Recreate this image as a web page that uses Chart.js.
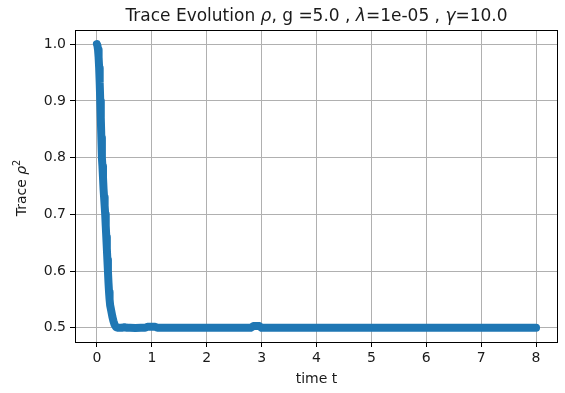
<!DOCTYPE html>
<html>
<head>
<meta charset="utf-8">
<script src="https://cdn.jsdelivr.net/npm/chart.js@4.4.0/dist/chart.umd.min.js"></script>
<style>
  html, body { margin: 0; padding: 0; background: #fff; }
  #wrap { width: 565px; height: 393px; }
</style>
</head>
<body>
<div id="wrap"><canvas id="traceChart"></canvas></div>
<script>
// time axis and Tr(rho^2) along the trajectory
const times = [0, 0.01, 0.02, 0.03, 0.04, 0.05, 0.06, 0.07, 0.08, 0.09,
  0.1, 0.11, 0.12, 0.13, 0.14, 0.15, 0.16, 0.17, 0.18, 0.19,
  0.2, 0.21, 0.22, 0.23, 0.24, 0.26, 0.28, 0.3, 0.32, 0.35,
  0.38, 0.45, 0.5, 0.55, 0.6, 0.7, 0.8, 0.88, 0.92, 1.0, 1.06, 1.1,
  1.5, 2.0, 2.5, 2.8, 2.85, 2.9, 2.96, 3.0, 3.5, 4.0, 4.5, 5.0,
  5.5, 6.0, 6.5, 7.0, 7.5, 8.0];
const trace = [1.0, 0.997, 0.99, 0.977, 0.958, 0.932, 0.9, 0.87, 0.835, 0.8,
  0.785, 0.765, 0.745, 0.73, 0.715, 0.7, 0.68, 0.66, 0.64, 0.62,
  0.6, 0.58, 0.563, 0.55, 0.54, 0.53, 0.52, 0.512, 0.506, 0.501,
  0.5, 0.5, 0.501, 0.5, 0.5, 0.4995, 0.5, 0.5, 0.502, 0.502, 0.502, 0.5,
  0.5, 0.5, 0.5, 0.5, 0.503, 0.503, 0.503, 0.5, 0.5, 0.5, 0.5, 0.5,
  0.5, 0.5, 0.5, 0.5, 0.5, 0.5];
const xTicks = [0, 1, 2, 3, 4, 5, 6, 7, 8];
const yTicks = [0.5, 0.6, 0.7, 0.8, 0.9, 1.0];

const FONT = '"DejaVu Sans", sans-serif';
const BLUE = '#1f77b4';
const INK = '#1a1a1a';

const titleParts = [
  { text: 'Trace Evolution ' },
  { text: 'ρ', italic: true },
  { text: ', g =5.0 , ' },
  { text: 'λ', italic: true },
  { text: '=1e-05 , ' },
  { text: 'γ', italic: true },
  { text: '=10.0' }
];
const yLabelParts = [
  { text: 'Trace ' },
  { text: 'ρ', italic: true },
  { text: '2', sup: true }
];

function partFont(p, size) {
  const s = p.sup ? size * 0.7 : size;
  return (p.italic ? 'italic ' : '') + s + 'px ' + FONT;
}

// draws a run of text pieces centred on (cx, baseline)
function drawParts(ctx, parts, cx, baseline, size) {
  let total = 0;
  for (const p of parts) { ctx.font = partFont(p, size); total += ctx.measureText(p.text).width; }
  let x = cx - total / 2;
  ctx.textAlign = 'left';
  ctx.textBaseline = 'alphabetic';
  for (const p of parts) {
    ctx.font = partFont(p, size);
    ctx.fillText(p.text, x, p.sup ? baseline - size * 0.4 : baseline);
    x += ctx.measureText(p.text).width;
  }
}

const decorations = {
  id: 'decorations',
  afterDraw(chart) {
    const ctx = chart.ctx;
    const a = chart.chartArea;
    ctx.save();
    // axes frame
    ctx.strokeStyle = '#000';
    ctx.lineWidth = 1;
    ctx.strokeRect(Math.round(a.left) + 0.5, Math.round(a.top) + 0.5,
      Math.round(a.right - a.left) - 1, Math.round(a.bottom - a.top));
    ctx.fillStyle = INK;
    drawParts(ctx, titleParts, (a.left + a.right) / 2, 21, 17);
    ctx.translate(26, (a.top + a.bottom) / 2 + 2);
    ctx.rotate(-Math.PI / 2);
    drawParts(ctx, yLabelParts, 0, 0, 14);
    ctx.restore();
  }
};

new Chart(document.getElementById('traceChart'), {
  type: 'line',
  data: {
    datasets: [{
      data: times.map((t, i) => ({ x: t, y: trace[i] })),
      borderColor: BLUE,
      backgroundColor: BLUE,
      borderWidth: 8,
      borderCapStyle: 'round',
      borderJoinStyle: 'round',
      pointRadius: 0,
      tension: 0,
      fill: false
    }]
  },
  options: {
    responsive: true,
    maintainAspectRatio: false,
    animation: false,
    devicePixelRatio: 1,
    layout: { padding: { top: 30, right: 7, left: 0, bottom: 0 } },
    plugins: { legend: { display: false }, tooltip: { enabled: false } },
    scales: {
      x: {
        type: 'linear',
        min: -0.4,
        max: 8.4,
        afterBuildTicks: s => { s.ticks = xTicks.map(v => ({ value: v })); },
        afterFit: s => { s.height = 51; },
        ticks: { color: INK, font: { family: FONT, size: 14 }, padding: 3, maxRotation: 0,
          callback: v => String(v) },
        grid: { color: '#b0b0b0', lineWidth: 1, tickColor: '#000', tickLength: 5 },
        border: { display: false },
        title: { display: true, text: 'time t', color: INK,
          font: { family: FONT, size: 14 }, padding: { top: 5, bottom: 5 } }
      },
      y: {
        type: 'linear',
        min: 0.475,
        max: 1.025,
        afterBuildTicks: s => { s.ticks = yTicks.map(v => ({ value: v })); },
        afterFit: s => { s.width = 75; },
        ticks: { color: INK, font: { family: FONT, size: 14 }, padding: 4,
          callback: v => v.toFixed(1) },
        grid: { color: '#b0b0b0', lineWidth: 1, tickColor: '#000', tickLength: 5 },
        border: { display: false }
      }
    }
  },
  plugins: [decorations]
});
</script>
</body>
</html>
